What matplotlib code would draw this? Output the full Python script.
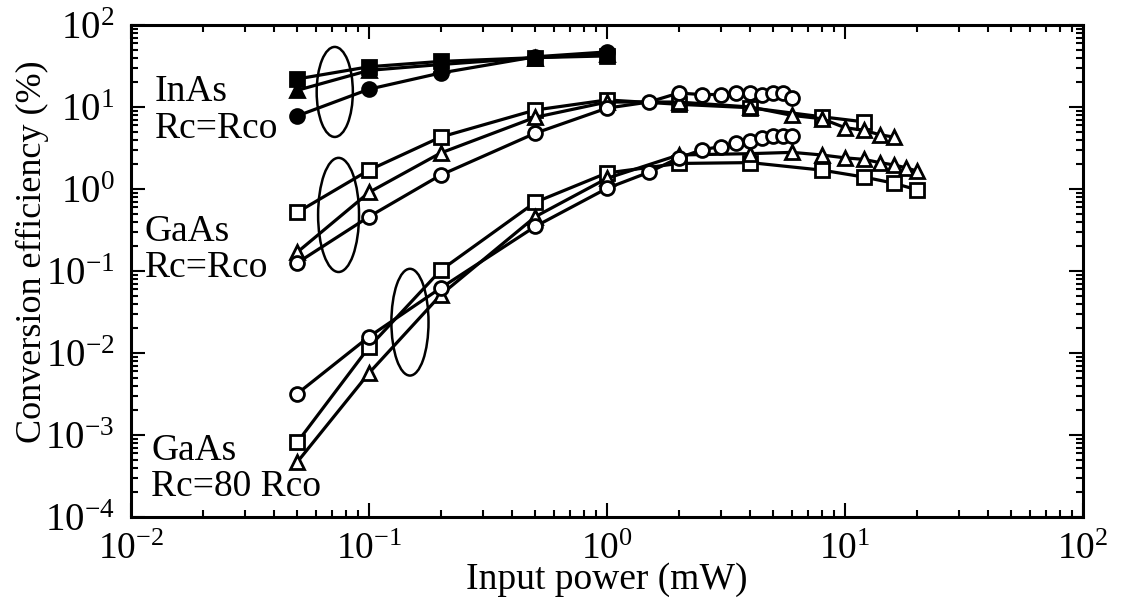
import matplotlib
matplotlib.use('Agg')
import matplotlib.pyplot as plt
from matplotlib.patches import Ellipse
from matplotlib.ticker import LogLocator, NullFormatter

plt.rcParams['font.family'] = ['Liberation Serif', 'DejaVu Serif']
plt.rcParams['mathtext.fontset'] = 'custom'
plt.rcParams['mathtext.rm'] = 'Liberation Serif'
plt.rcParams['mathtext.it'] = 'Liberation Serif'
plt.rcParams['mathtext.default'] = 'regular'

# InAs, Rc = Rco (filled)
inas_x = [0.05, 0.1, 0.2, 0.5, 1.0]
inas_sq = [22, 31, 36, 40, 42]
inas_tri = [16, 28, 33, 40, 44]
inas_ci = [7.8, 16.5, 26, 41, 47]

# GaAs, Rc = Rco (open)
ga1_sq_x = [0.05, 0.1, 0.2, 0.5, 1.0, 2.0, 4.0, 8.0, 12.0]
ga1_sq = [0.52, 1.7, 4.3, 9.2, 12.2, 10.8, 9.8, 7.6, 6.6]
ga1_tri_x = [0.05, 0.1, 0.2, 0.5, 1.0, 2.0, 4.0, 6.0, 8.0, 10.0, 12.0, 14.0, 16.0]
ga1_tri = [0.17, 0.91, 2.75, 7.5, 11.5, 11.5, 10.0, 7.9, 7.2, 5.6, 5.2, 4.6, 4.3]
ga1_ci_x = [0.05, 0.1, 0.2, 0.5, 1.0, 1.5, 2.0, 2.5, 3.0, 3.5, 4.0, 4.5, 5.0, 5.5, 6.0]
ga1_ci = [0.126, 0.46, 1.48, 4.8, 9.7, 11.5, 14.8, 14.2, 14.2, 14.8, 14.8, 14.2, 14.8, 14.8, 13.0]

# GaAs, Rc = 80 Rco (open)
ga2_sq_x = [0.05, 0.1, 0.2, 0.5, 1.0, 2.0, 4.0, 8.0, 12.0, 16.0, 20.0]
ga2_sq = [0.00082, 0.0118, 0.102, 0.69, 1.57, 2.05, 2.1, 1.7, 1.4, 1.18, 0.98]
ga2_tri_x = [0.05, 0.1, 0.2, 0.5, 1.0, 2.0, 4.0, 6.0, 8.0, 10.0, 12.0, 14.0, 16.0, 18.0, 20.0]
ga2_tri = [0.00047, 0.0057, 0.051, 0.46, 1.35, 2.6, 2.7, 2.8, 2.6, 2.4, 2.3, 2.1, 1.97, 1.82, 1.66]
ga2_ci_x = [0.05, 0.1, 0.2, 0.5, 1.0, 1.5, 2.0, 2.5, 3.0, 3.5, 4.0, 4.5, 5.0, 5.5, 6.0]
ga2_ci = [0.0032, 0.0158, 0.062, 0.35, 1.02, 1.6, 2.4, 3.0, 3.3, 3.6, 3.9, 4.2, 4.4, 4.4, 4.4]

fig = plt.figure(figsize=(11.22, 6.03), dpi=100)
ax = fig.add_axes([0.1168, 0.1426, 0.8484, 0.8159])

lw = 2.3
ms = 10
def serie(x, y, m, filled):
    fc = 'black' if filled else 'white'
    ax.plot(x, y, color='black', lw=lw, marker=m, ms=ms,
            mfc=fc, mec='black', mew=2.0)

serie(inas_x, inas_sq, 's', True)
serie(inas_x, inas_tri, '^', True)
serie(inas_x, inas_ci, 'o', True)
serie(ga1_sq_x, ga1_sq, 's', False)
serie(ga1_tri_x, ga1_tri, '^', False)
serie(ga1_ci_x, ga1_ci, 'o', False)
serie(ga2_sq_x, ga2_sq, 's', False)
serie(ga2_tri_x, ga2_tri, '^', False)
serie(ga2_ci_x, ga2_ci, 'o', False)

ax.set_xscale('log')
ax.set_yscale('log')
ax.set_xlim(1e-2, 1e2)
ax.set_ylim(1e-4, 1e2)

# elipses agrupando las series
for cx, cy, w, h in [(0.214, 0.864, 0.038, 0.183),
                     (0.218, 0.614, 0.043, 0.232),
                     (0.293, 0.396, 0.039, 0.217)]:
    ax.add_patch(Ellipse((cx, cy), w, h, transform=ax.transAxes,
                         fill=False, ec='black', lw=1.8))

etiquetas = [(0.025, 0.827, 'InAs\nRc=Rco'),
             (0.014, 0.543, 'GaAs\nRc=Rco'),
             (0.021, 0.098, 'GaAs\nRc=80 Rco')]
for tx, ty, t in etiquetas:
    ax.text(tx, ty, t, transform=ax.transAxes, fontsize=27,
            va='center', ha='left', linespacing=1.08)

ax.xaxis.set_major_locator(LogLocator(base=10, numticks=10))
ax.yaxis.set_major_locator(LogLocator(base=10, numticks=10))
ax.xaxis.set_minor_locator(LogLocator(base=10, subs=range(2, 10), numticks=20))
ax.yaxis.set_minor_locator(LogLocator(base=10, subs=range(2, 10), numticks=20))
ax.xaxis.set_minor_formatter(NullFormatter())
ax.yaxis.set_minor_formatter(NullFormatter())
ax.tick_params(which='both', direction='in', top=True, right=True,
               labelsize=28, width=1.5)
ax.tick_params(which='major', length=10)
ax.tick_params(which='minor', length=5)
ax.tick_params(axis='x', which='major', pad=11, labelsize=27)
ax.tick_params(axis='y', which='major', pad=12)
for s in ax.spines.values():
    s.set_linewidth(2.2)

ax.set_xlabel('Input power (mW)', fontsize=27, labelpad=-3)
ax.set_ylabel('Conversion efficiency (%)', fontsize=26)
ax.yaxis.set_label_coords(-0.086, 0.539)

fig.savefig('out.png', dpi=100)
